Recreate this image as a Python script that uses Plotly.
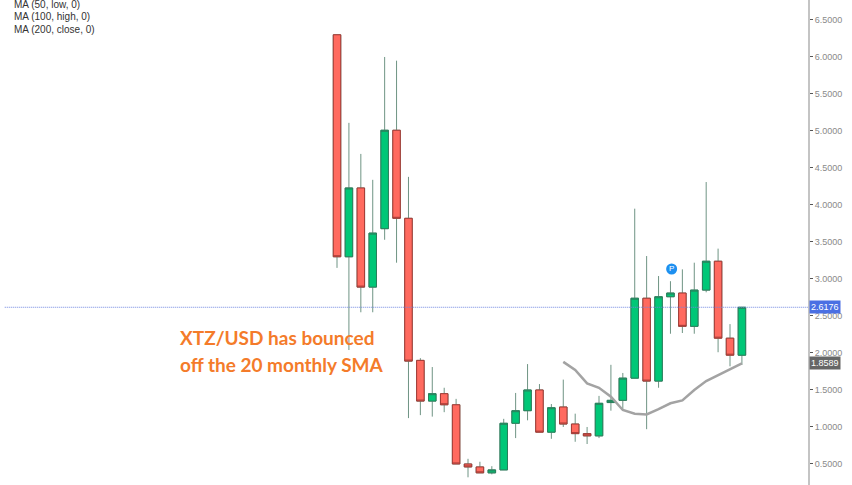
import plotly.graph_objects as go

opens = [6.30, 3.30, 4.23, 2.89, 3.68, 5.01, 3.82, 1.90, 1.35, 1.45, 1.30, 0.50, 0.46, 0.38, 0.42, 1.05, 1.22, 1.50, 0.93, 1.27, 1.04, 0.91,
         0.88, 1.33, 1.36, 1.66, 2.74, 1.62, 2.76, 2.81, 2.36, 2.85, 3.24, 2.20, 1.97]
closes = [3.30, 4.23, 2.89, 3.62, 5.01, 3.82, 1.89, 1.35, 1.45, 1.30, 0.50, 0.46, 0.38, 0.42, 1.05, 1.22, 1.50, 0.93, 1.26, 1.04, 0.91, 0.88,
          1.32, 1.36, 1.66, 2.74, 1.62, 2.76, 2.81, 2.36, 2.85, 3.24, 2.20, 1.97, 2.6176]
highs = [6.30, 5.11, 4.69, 4.34, 6.00, 5.95, 4.38, 1.93, 1.81, 1.53, 1.38, 0.57, 0.53, 0.47, 1.11, 1.46, 1.85, 1.58, 1.31, 1.64, 1.18, 1.00,
         1.42, 1.84, 1.73, 3.95, 3.31, 3.04, 2.97, 3.13, 3.22, 4.31, 3.41, 2.39, 2.6176]
lows = [3.15, 2.04, 2.55, 2.55, 3.53, 3.22, 1.12, 1.16, 1.14, 1.20, 0.50, 0.32, 0.38, 0.36, 0.42, 0.85, 1.09, 0.93, 0.84, 1.00, 0.80, 0.77,
        0.85, 1.22, 1.24, 1.66, 0.97, 1.53, 2.26, 2.27, 2.26, 2.82, 2.01, 1.82, 1.84]
sma = [1.88, 1.77, 1.59, 1.53, 1.41, 1.23, 1.18, 1.17, 1.24, 1.32, 1.36, 1.50, 1.62, 1.70, 1.78, 1.8589]

idx = list(range(len(opens)))
body_high = [max(o, c) for o, c in zip(opens, closes)]
body_low = [min(o, c) for o, c in zip(opens, closes)]

last_price = 2.6176
ma_value = 1.8589
tick_vals = [0.5, 1, 1.5, 2, 2.5, 3, 3.5, 4, 4.5, 5, 5.5, 6, 6.5]
ma_labels = ['MA (50, low, 0)', 'MA (100, high, 0)', 'MA (200, close, 0)']
note_lines = ['XTZ/USD has bounced', 'off the 20 monthly SMA']

wick = '#6f9484'
fig = go.Figure()

# wicks first, bodies on top so the wick colour can differ from the outline
fig.add_trace(go.Candlestick(
    x=idx, open=opens, high=highs, low=lows, close=closes, whiskerwidth=0,
    increasing=dict(line=dict(color=wick, width=1), fillcolor='#00c777'),
    decreasing=dict(line=dict(color=wick, width=1), fillcolor='#ff6a5f'),
))
fig.add_trace(go.Candlestick(
    x=idx, open=opens, high=body_high, low=body_low, close=closes, whiskerwidth=0,
    increasing=dict(line=dict(color='#2b7f5c', width=1), fillcolor='#00c777'),
    decreasing=dict(line=dict(color='#a33a35', width=1), fillcolor='#ff6a5f'),
))

# 20 monthly SMA
fig.add_trace(go.Scatter(
    x=idx[-len(sma):], y=sma, mode='lines',
    line=dict(color='#a3a3a3', width=2.5),
))

# "P" marker above the candle
fig.add_trace(go.Scatter(
    x=[28.1], y=[3.135], mode='markers+text', text=['P'], textposition='middle center',
    marker=dict(color='#1e90f0', size=11),
    textfont=dict(color='white', size=8, family='Liberation Sans'),
))

fig.add_shape(type='line', xref='x', yref='y', x0=-27.9, x1=39.55, y0=last_price, y1=last_price,
              line=dict(color='#6f86e0', width=1, dash='1px,1px'))

for i, label in enumerate(ma_labels):
    fig.add_annotation(xref='paper', yref='paper', x=11.5 / 808, y=1 - (5 + 12 * i) / 485,
                       text=label, showarrow=False, xanchor='left', yanchor='middle',
                       font=dict(family='Liberation Sans', size=10, color='#333333'))

for i, line in enumerate(note_lines):
    fig.add_annotation(xref='paper', yref='paper', x=177.5 / 808, y=1 - (337 + 27 * i) / 485,
                       text=f'<b>{line}</b>', showarrow=False, xanchor='left', yanchor='middle',
                       font=dict(family='Lato', size=19, color='#f47b2a'))

# price tags on the axis
fig.add_annotation(xref='paper', yref='y', x=1, y=last_price, text=f'{last_price:.4f}', showarrow=False,
                   xanchor='left', yanchor='middle', bgcolor='#4a6fe3', borderpad=1, xshift=1,
                   font=dict(family='Liberation Sans', size=9, color='white'))
fig.add_annotation(xref='paper', yref='y', x=1, y=ma_value, text=f'{ma_value:.4f}', showarrow=False,
                   xanchor='left', yanchor='middle', bgcolor='#666666', borderpad=1, xshift=1,
                   font=dict(family='Liberation Sans', size=9, color='white'))

fig.update_layout(
    width=852, height=485,
    margin=dict(l=0, r=44, t=0, b=0),
    paper_bgcolor='white', plot_bgcolor='white',
    showlegend=False, boxgap=0.37, boxgroupgap=0,
    xaxis=dict(range=[-28.3, 39.55], visible=False, rangeslider=dict(visible=False)),
    yaxis=dict(range=[0.216, 6.77], side='right', showgrid=False, zeroline=False,
               showline=True, linecolor='#c4c4c4', linewidth=2,
               tickvals=tick_vals, tickformat='.4f', ticks='outside', ticklen=3, tickcolor='#555555',
               tickfont=dict(family='Liberation Sans', size=9, color='#8a8a8a')),
)

# the page's default body margin would push the chart off by 8px
fig.write_html("out.html", config=dict(displayModeBar=False),
               post_script="document.body.style.margin='0';document.documentElement.style.overflow='hidden';")
